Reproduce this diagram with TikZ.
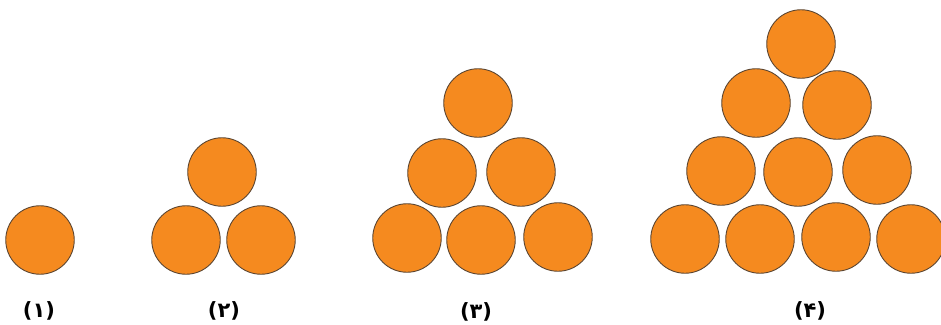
\documentclass[tikz,border=0pt]{standalone}
\usepackage{fontspec}
\newfontfamily\arabicfont[Script=Arabic]{DejaVu Sans}
\definecolor{ballfill}{HTML}{F58A1F}
\definecolor{balledge}{HTML}{5C4632}
\tikzset{
  ball/.style={circle, fill=ballfill, draw=balledge, line width=0.9pt, minimum size=68.5pt, inner sep=0pt},
  lbl/.style={font=\arabicfont\bfseries\fontsize{21}{24}\selectfont, text=black, inner sep=0pt}
}
\begin{document}
\begin{tikzpicture}[x=1pt,y=-1pt]
\useasboundingbox (0,0) rectangle (941,324);
% group 1
\node[ball] (a1) at (40,240) {};
% group 2
\node[ball] (b1) at (222,172) {};
\node[ball] (b2) at (186,240) {};
\node[ball] (b3) at (261,240) {};
% group 3
\node[ball] (c1) at (478,103) {};
\node[ball] (c2) at (442,173) {};
\node[ball] (c3) at (521,172) {};
\node[ball] (c4) at (407,238) {};
\node[ball] (c5) at (481,240) {};
\node[ball] (c6) at (558,237) {};
% group 4
\node[ball] (d1) at (801,44) {};
\node[ball] (d2) at (756,103) {};
\node[ball] (d3) at (837,105) {};
\node[ball] (d4) at (721,171) {};
\node[ball] (d5) at (798,172) {};
\node[ball] (d6) at (877,170) {};
\node[ball] (d7) at (685,239) {};
\node[ball] (d8) at (760,239) {};
\node[ball] (d9) at (836,237) {};
\node[ball] (d10) at (911,239) {};
% labels
\node[lbl] (l1) at (39,311) {(۱)};
\node[lbl] (l2) at (224,311) {(۲)};
\node[lbl] (l3) at (476,312) {(۳)};
\node[lbl] (l4) at (810,311) {(۴)};
\end{tikzpicture}
\end{document}
